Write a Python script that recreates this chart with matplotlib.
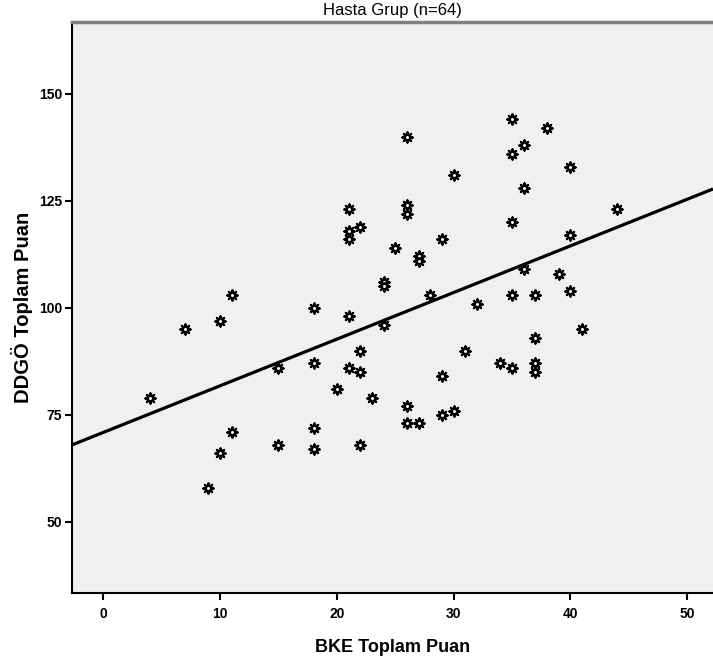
import numpy as np
import matplotlib
matplotlib.use("Agg")
import matplotlib.pyplot as plt

plt.rcParams["font.family"] = ["Liberation Sans Narrow", "Liberation Sans", "DejaVu Sans"]

# BKE Toplam Puan (x) ve DDGÖ Toplam Puan (y), hasta grubu
bke = [4, 7, 9, 10, 10, 11, 11, 15, 15, 18, 18, 18, 18, 20, 21, 21, 21, 21, 21,
       22, 22, 22, 22, 23, 24, 24, 24, 25, 26, 26, 26, 26, 26, 27, 27, 27, 28,
       29, 29, 29, 30, 30, 31, 32, 34, 35, 35, 35, 35, 35, 36, 36, 36, 37, 37,
       37, 37, 38, 39, 40, 40, 40, 41, 44]
ddgo = [79, 95, 58, 97, 66, 103, 71, 86, 68, 100, 87, 72, 67, 81, 123, 118, 116, 98, 86,
        119, 90, 85, 68, 79, 106, 105, 96, 114, 140, 124, 122, 77, 73, 112, 111, 73, 103,
        116, 84, 75, 131, 76, 90, 101, 87, 144, 136, 120, 103, 86, 138, 128, 109, 103, 93,
        87, 85, 142, 108, 133, 117, 104, 95, 123]
x_ticks = [0, 10, 20, 30, 40, 50]
y_ticks = [50, 75, 100, 125, 150]

x = np.array(bke)
y = np.array(ddgo)

fig = plt.figure(figsize=(7.13, 6.63), dpi=100)
ax = fig.add_axes([0.1006, 0.105, 0.8994, 0.862])
ax.set_facecolor("#f0f0f0")

xlim = (-2.7, 52.2)
ax.set_xlim(xlim)
ax.set_ylim(33.3, 166.8)

# regresyon doğrusu
b, a = np.polyfit(x, y, 1)
xx = np.array(xlim)
ax.plot(xx, a + b * xx, color="black", lw=2.3, zorder=2, solid_capstyle="butt")

# SPSS benzeri işaretler
ax.scatter(x, y, marker=(8, 2, 0), s=55, color="black", lw=1.5, zorder=3)
ax.scatter(x, y, marker="o", s=18, facecolor="#f0f0f0", edgecolor="black", lw=2.0, zorder=4)

ax.set_xticks(x_ticks)
ax.set_yticks(y_ticks)
ax.tick_params(direction="out", length=5, width=1.5, labelsize=10)
for lab in ax.get_xticklabels() + ax.get_yticklabels():
    lab.set_fontweight("bold")
ax.tick_params(axis="x", pad=5)
ax.tick_params(axis="y", pad=2)

for s in ["left", "bottom"]:
    ax.spines[s].set_linewidth(1.5)
    ax.spines[s].set_color("black")
ax.spines["top"].set_linewidth(2.5)
ax.spines["top"].set_color("#808080")
ax.spines["right"].set_visible(False)

ax.set_title("Hasta Grup (n=64)", fontsize=12, pad=5)
ax.set_xlabel("BKE Toplam Puan", fontsize=13, fontweight="bold", labelpad=13)
ax.set_ylabel("DDGÖ Toplam Puan", fontsize=14.5, fontweight="bold", labelpad=4,
              family=["Liberation Sans", "DejaVu Sans"])

fig.savefig("out.png", dpi=100)
